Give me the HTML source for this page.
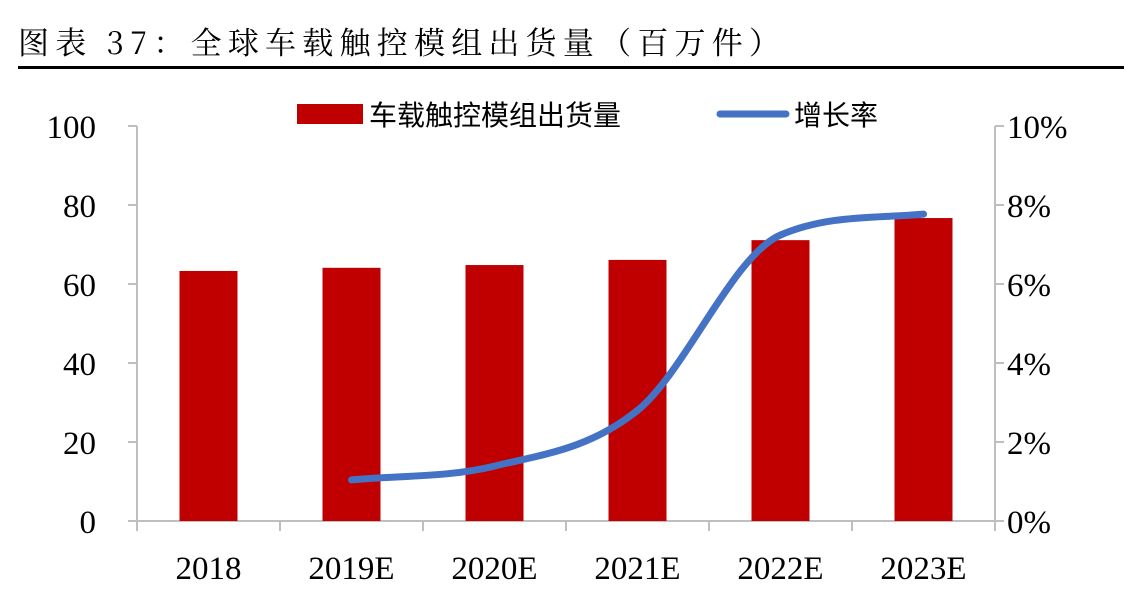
<!DOCTYPE html>
<html><head><meta charset="utf-8"><style>
body{margin:0;background:#fff;width:1142px;height:594px;overflow:hidden}
svg text{font-family:"Liberation Serif","Noto Serif CJK SC",serif}
</style></head><body>
<svg id="c" width="1142" height="594" xmlns="http://www.w3.org/2000/svg">
<text x="18" y="54" font-size="31" fill="#000" textLength="762" lengthAdjust="spacing" style="font-family:'Noto Serif CJK SC',serif">图表 37：全球车载触控模组出货量（百万件）</text>
<rect x="18" y="66" width="1106" height="3" fill="#000"/>
<g id="g"></g>
</svg>
<script>
const categories=["2018","2019E","2020E","2021E","2022E","2023E"];
const shipments=[63.3,64.1,64.8,66.1,71.1,76.7];
const growth=[null,1.04,1.39,2.8,7.24,7.77];
const leftTicks=[0,20,40,60,80,100];
const rightTicks=["0%","2%","4%","6%","8%","10%"];
const NS="http://www.w3.org/2000/svg";
const g=document.getElementById('g');
const X0=137,X1=995,Y0=521,Y1=126;
const cw=(X1-X0)/categories.length;
const xc=i=>X0+cw*(i+0.5);
const yL=v=>Y0-(v/100)*(Y0-Y1);
const yR=v=>Y0-(v/10)*(Y0-Y1);
function mk(t,a,txt){const e=document.createElementNS(NS,t);for(const k in a)e.setAttribute(k,a[k]);if(txt!=null)e.textContent=txt;g.appendChild(e);return e;}
let e=mk('line',{x1:X0,y1:Y1,x2:X0,y2:Y0,stroke:'#bfbfbf','stroke-width':2});


e=mk('line',{x1:X1,y1:Y1,x2:X1,y2:Y0,stroke:'#bfbfbf','stroke-width':2});


e=mk('line',{x1:X0,y1:Y0,x2:X1,y2:Y0,stroke:'#bfbfbf','stroke-width':2});


leftTicks.forEach((v,i)=>{
  const y=yL(v);
  mk('line',{x1:X0-9,y1:y,x2:X0,y2:y,stroke:'#bfbfbf','stroke-width':2});
  mk('line',{x1:X1,y1:y,x2:X1+9,y2:y,stroke:'#bfbfbf','stroke-width':2});
  let t=mk('text',{x:96,y:y+12,'font-size':33,'text-anchor':'end'},v);
  
  
  t=mk('text',{x:1007,y:y+12,'font-size':33},rightTicks[i]);
  
  
});
for(let i=0;i<=categories.length;i++){mk('line',{x1:X0+cw*i,y1:Y0,x2:X0+cw*i,y2:Y0+10,stroke:'#bfbfbf','stroke-width':2});}
categories.forEach((c,i)=>{
  const b=mk('rect',{x:xc(i)-29,y:yL(shipments[i]),width:58,height:Y0-yL(shipments[i]),fill:'#c00000'});
  
  
  const t=mk('text',{x:xc(i),y:579,'font-size':33,'text-anchor':'middle'},c);
  
  
});
const pts=[];growth.forEach((v,i)=>{if(v!=null)pts.push([xc(i),yR(v)]);});
// monotone cubic (Fritsch-Carlson) to avoid overshoot
const n=pts.length,dx=[],m=[],t=[];
for(let i=0;i<n-1;i++){dx[i]=pts[i+1][0]-pts[i][0];m[i]=(pts[i+1][1]-pts[i][1])/dx[i];}
t[0]=m[0];t[n-1]=m[n-2];
for(let i=1;i<n-1;i++){t[i]=(m[i-1]*m[i]<=0)?0:(m[i-1]+m[i])/2;}
for(let i=0;i<n-1;i++){if(m[i]===0){t[i]=t[i+1]=0;continue;}const a=t[i]/m[i],b=t[i+1]/m[i],s=a*a+b*b;if(s>9){const k=3/Math.sqrt(s);t[i]=k*a*m[i];t[i+1]=k*b*m[i];}}
let d='M'+pts[0][0]+','+pts[0][1];
for(let i=0;i<n-1;i++){
  const h=dx[i]/3;
  d+=` C${pts[i][0]+h},${pts[i][1]+t[i]*h} ${pts[i+1][0]-h},${pts[i+1][1]-t[i+1]*h} ${pts[i+1][0]},${pts[i+1][1]}`;
}
const ln=mk('path',{d:d,fill:'none',stroke:'#4472c4','stroke-width':7,'stroke-linecap':'round'});


let r=mk('rect',{x:297,y:104,width:66,height:20,fill:'#c00000'});


let tx=mk('text',{x:369,y:125,'font-size':28,style:"font-family:'Noto Sans CJK SC',sans-serif"},'车载触控模组出货量');


r=mk('line',{x1:720,y1:114,x2:786,y2:114,stroke:'#4472c4','stroke-width':7,'stroke-linecap':'round'});


tx=mk('text',{x:794,y:125,'font-size':28,style:"font-family:'Noto Sans CJK SC',sans-serif"},'增长率');


</script>
</body></html>
